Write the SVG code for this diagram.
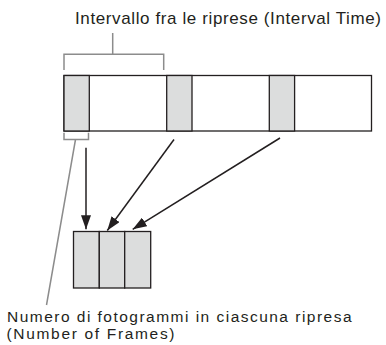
<svg xmlns="http://www.w3.org/2000/svg" width="386" height="345" viewBox="0 0 386 345">
<defs>
<style>
.lbl{font-family:"Liberation Sans",Arial,sans-serif;font-size:17px;fill:#231f20}
.lbl2{font-family:"Liberation Sans",Arial,sans-serif;font-size:15.5px;fill:#231f20}
.box{fill:#fff;stroke:#231f20;stroke-width:1.3}
.cell{fill:#dcdddd;stroke:#231f20;stroke-width:1.3}
.br{fill:none;stroke:#8c8c8c;stroke-width:1.5}
.arr{stroke:#231f20;stroke-width:1.5;fill:none;marker-end:url(#ah)}
</style>
<marker id="ah" viewBox="0 0 14 10" refX="14" refY="5" markerWidth="14" markerHeight="10" markerUnits="userSpaceOnUse" orient="auto">
<path d="M0,0 L14,5 L0,10 Z" fill="#231f20"/>
</marker>
</defs>
<g id="strip">
<rect class="box" x="64" y="75.5" width="307.5" height="55.5"/>
<rect class="cell" x="64" y="75.5" width="25.3" height="55.5"/>
<rect class="cell" x="166.7" y="75.5" width="25.3" height="55.5"/>
<rect class="cell" x="269.3" y="75.5" width="25.3" height="55.5"/>
</g>
<g id="frames">
<rect class="cell" x="73.5" y="231.5" width="25.8" height="56.5"/>
<rect class="cell" x="99.3" y="231.5" width="25.4" height="56.5"/>
<rect class="cell" x="124.7" y="231.5" width="26" height="56.5"/>
</g>
<g id="interval-label">
<path class="br" d="M112.7,33 V54.3 M64,70 V54.3 H163.7 V70"/>
<text class="lbl" x="75" y="24.3" textLength="306" lengthAdjust="spacing">Intervallo fra le riprese (Interval Time)</text>
</g>
<g id="frames-label">
<path class="br" d="M64,132.7 V139.5 H88.5 V132.7 M75.5,139.5 L46.5,305"/>
<text class="lbl2" x="7" y="321.5" textLength="344.5" lengthAdjust="spacing">Numero di fotogrammi in ciascuna ripresa</text>
<text class="lbl2" x="6.5" y="339.2" textLength="168" lengthAdjust="spacing">(Number of Frames)</text>
</g>
<g id="connectors">
<line class="arr" x1="86" y1="147.7" x2="86" y2="229.3"/>
<line class="arr" x1="174" y1="139.5" x2="107.3" y2="230.5"/>
<line class="arr" x1="280" y1="138" x2="132.7" y2="229.3"/>
</g>
</svg>
